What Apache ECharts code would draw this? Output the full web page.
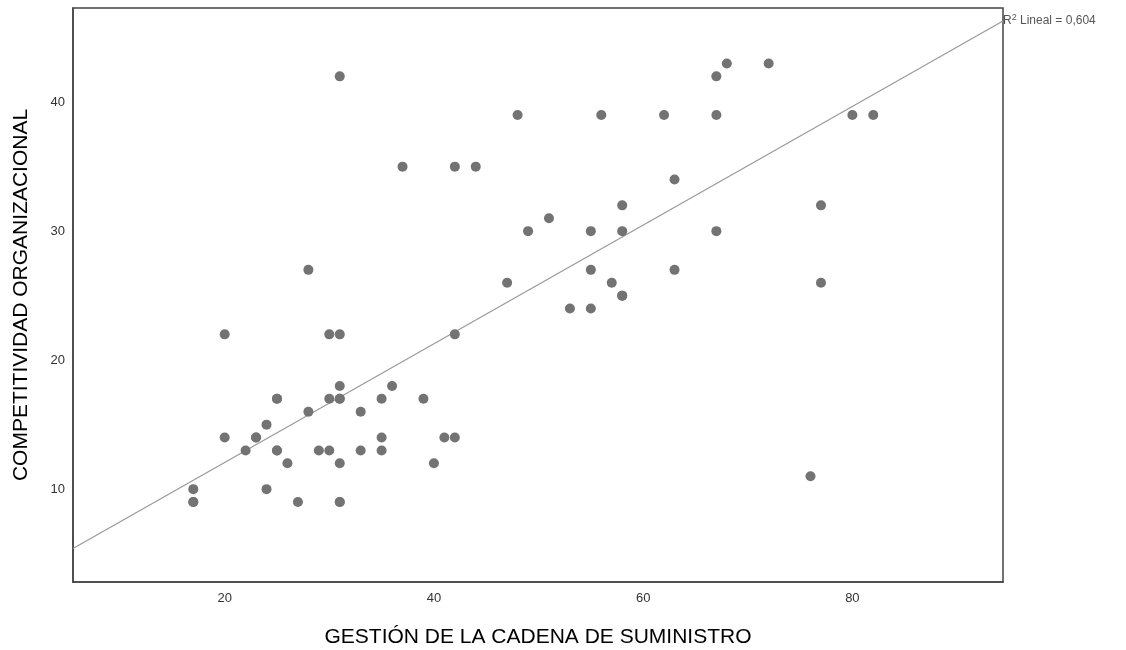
<!DOCTYPE html>
<html>
<head>
<meta charset="utf-8">
<script src="https://cdn.jsdelivr.net/npm/echarts@6/dist/echarts.min.js"></script>
<style>
html,body{margin:0;padding:0;background:#fff;}
#chart{width:1126px;height:650px;}
</style>
</head>
<body>
<div id="chart"></div>
<script>
// Data
const gestion = [
  68, 72,
  31, 67,
  48, 56, 62, 67, 80, 82,
  37, 42, 44,
  63,
  58, 77,
  51,
  49, 55, 58, 67,
  28, 55, 63,
  47, 57, 77,
  58, 58,
  53, 55,
  20, 30, 31, 42,
  31, 36,
  25, 25, 30, 31, 31, 35, 39,
  28, 33,
  24,
  20, 23, 23, 35, 41, 42,
  22, 25, 25, 29, 30, 33, 35,
  26, 31, 40,
  76,
  17, 24,
  17, 17, 27, 31, 31
];
const competitividad = [
  43, 43,
  42, 42,
  39, 39, 39, 39, 39, 39,
  35, 35, 35,
  34,
  32, 32,
  31,
  30, 30, 30, 30,
  27, 27, 27,
  26, 26, 26,
  25, 25,
  24, 24,
  22, 22, 22, 22,
  18, 18,
  17, 17, 17, 17, 17, 17, 17,
  16, 16,
  15,
  14, 14, 14, 14, 14, 14,
  13, 13, 13, 13, 13, 13, 13,
  12, 12, 12,
  11,
  10, 10,
  9, 9, 9, 9, 9
];
// Linear fit line endpoints (at the axis limits)
const fitX = [5.5, 94.4];
const fitY = [5.4, 46.3];
const xTicks = [20, 40, 60, 80];
const yTicks = [10, 20, 30, 40];
const xRange = [5.5, 94.4];
const yRange = [2.8, 47.3];

const points = gestion.map((g, i) => [g, competitividad[i]]);
const fitLine = fitX.map((x, i) => [x, fitY[i]]);

const FONT = 'Liberation Sans, Arial, sans-serif';
const chart = echarts.init(document.getElementById('chart'), null, {renderer: 'canvas'});
chart.setOption({
  animation: false,
  backgroundColor: '#ffffff',
  grid: {
    left: 73, right: 123, top: 8, bottom: 68,
    outerBoundsMode: 'none', containLabel: false,
    show: true, borderColor: '#444', borderWidth: 1.5, backgroundColor: 'transparent'
  },
  xAxis: {
    type: 'value', min: xRange[0], max: xRange[1],
    name: 'GESTIÓN DE LA CADENA DE SUMINISTRO',
    nameLocation: 'middle', nameGap: 45,
    nameTextStyle: {fontFamily: FONT, fontSize: 21, color: '#000'},
    axisLine: {show: true, lineStyle: {color: '#444', width: 1.5}},
    axisTick: {show: false},
    splitLine: {show: false},
    axisLabel: {
      customValues: xTicks, margin: 10,
      fontFamily: FONT, fontSize: 13, color: '#333'
    }
  },
  yAxis: {
    type: 'value', min: yRange[0], max: yRange[1],
    name: 'COMPETITIVIDAD ORGANIZACIONAL',
    nameLocation: 'middle', nameGap: 41, nameRotate: 90,
    nameTextStyle: {fontFamily: FONT, fontSize: 21, color: '#000'},
    axisLine: {show: true, lineStyle: {color: '#444', width: 1.5}},
    axisTick: {show: false},
    splitLine: {show: false},
    axisLabel: {
      customValues: yTicks, margin: 8,
      fontFamily: FONT, fontSize: 13, color: '#333'
    }
  },
  series: [
    {
      type: 'line',
      data: fitLine,
      symbol: 'none',
      lineStyle: {color: '#999', width: 1.2},
      z: 1,
      endLabel: {
        show: true,
        distance: 0,
        formatter: () => '{r|R}{s|2}{t| Lineal = 0,604}',
        rich: {
          r: {fontFamily: FONT, fontSize: 12, color: '#555'},
          s: {fontFamily: FONT, fontSize: 9, color: '#555', verticalAlign: 'top', padding: [0, 0, 6, 0]},
          t: {fontFamily: FONT, fontSize: 12, color: '#555'}
        }
      }
    },
    {
      type: 'scatter',
      data: points,
      symbol: 'circle',
      symbolSize: 10,
      itemStyle: {color: '#737373', opacity: 1},
      z: 3
    }
  ]
});
</script>
</body>
</html>
